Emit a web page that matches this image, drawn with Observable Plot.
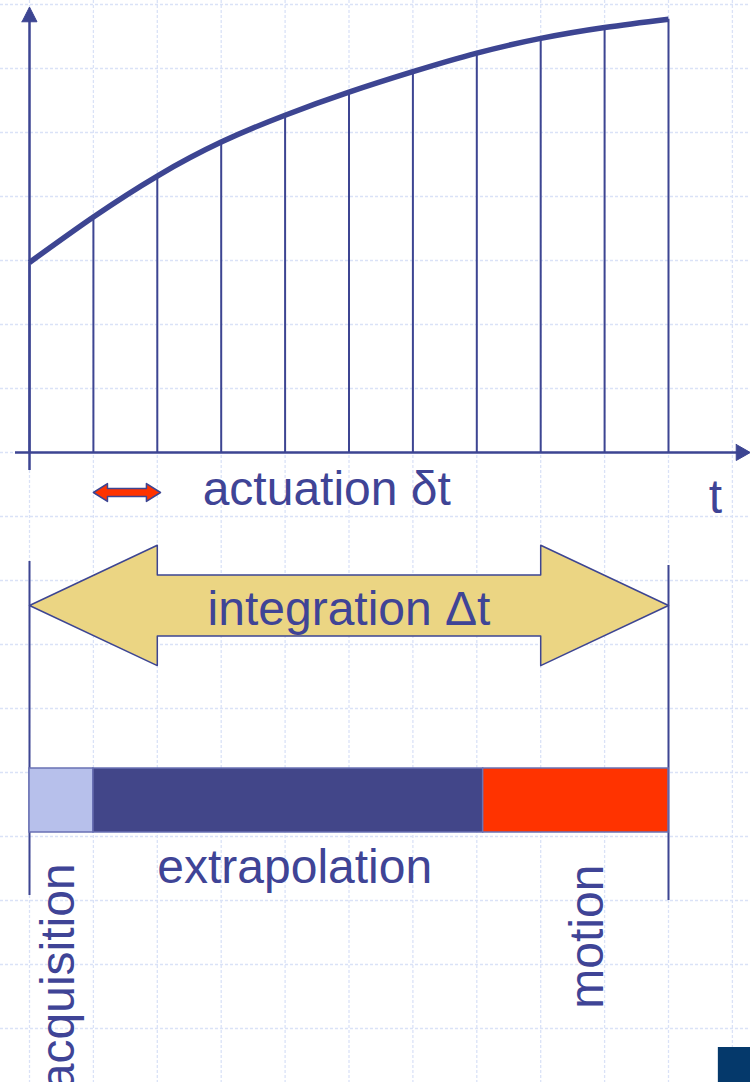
<!DOCTYPE html>
<html><head><meta charset="utf-8">
<script src="https://cdn.jsdelivr.net/npm/d3@7"></script>
<script src="https://cdn.jsdelivr.net/npm/@observablehq/plot@0.6"></script>
<style>
html,body{margin:0;padding:0;background:#fff;}
#chart svg{display:block;}
</style>
</head><body><div id="chart"></div>
<script>
// ---- data ----
const sampleTimes = [0, 1, 2, 3, 4, 5, 6, 7, 8, 9, 10];
const curveValues = [2.97, 3.68, 4.32, 4.85, 5.27, 5.63, 5.95, 6.24, 6.47, 6.64, 6.77];
const phaseNames = ["acquisition", "extrapolation", "motion"];
const phaseBounds = [0, 1, 7.1, 10];
const actuationSpan = [1, 2.05];
const integrationSpan = [0, 10];
const labelTexts = ["actuation δt", "t", "integration Δt"];
const gridTimes = d3.range(0, 12);
const gridValues = d3.range(-9, 8);

// ---- layout / style ----
const navy = "#3d4592";
const textColor = "#3f4496";
const font = "Liberation Sans, Arial, sans-serif";
const fs = 48;

const samples = sampleTimes.map((t, i) => ({t, v: curveValues[i]}));
const phases = phaseNames.map((name, i) => ({name, x1: phaseBounds[i], x2: phaseBounds[i + 1]}));

function doubleArrow(x0, x1, yc, head, shaftHalf, headHalf) {
  return [
    [x0, yc], [x0 + head, yc + headHalf], [x0 + head, yc + shaftHalf],
    [x1 - head, yc + shaftHalf], [x1 - head, yc + headHalf], [x1, yc],
    [x1 - head, yc - headHalf], [x1 - head, yc - shaftHalf],
    [x0 + head, yc - shaftHalf], [x0 + head, yc - headHalf], [x0, yc]
  ];
}
const bigArrow = doubleArrow(integrationSpan[0], integrationSpan[1], -2.39, 2.0, 0.477, 0.94);
const smallArrow = doubleArrow(actuationSpan[0], actuationSpan[1], -0.625, 0.22, 0.0625, 0.14);
const yHead = [[-0.117, 6.73], [0.117, 6.73], [0, 6.96], [-0.117, 6.73]];
const xHead = [[11.06, 0.125], [11.06, -0.125], [11.28, 0], [11.06, 0.125]];

const poly = (pts, opts) => Plot.line(pts, {x: d => d[0], y: d => d[1], ...opts});

const chart = Plot.plot({
  width: 750,
  height: 1082,
  margin: 0,
  x: {domain: [-29 / 63.9, 721 / 63.9], axis: null},
  y: {domain: [-9.84375, 7.0625], axis: null},
  color: {domain: phaseNames, range: ["#b7c0eb", "#424689", "#ff3300"]},
  style: {background: "#fff"},
  marks: [
    // background grid
    Plot.ruleX(gridTimes, {stroke: "#dae2f7", strokeWidth: 1.3, strokeDasharray: "3,2"}),
    Plot.ruleY(gridValues, {stroke: "#dae2f7", strokeWidth: 1.3, strokeDasharray: "3,2"}),
    // sample lines
    Plot.ruleX(samples, {x: "t", y1: 0, y2: "v", stroke: navy, strokeWidth: 2}),
    // curve
    Plot.line(samples, {x: "t", y: "v", curve: "natural", stroke: navy, strokeWidth: 5.5, strokeLinecap: "butt"}),
    // axes
    Plot.ruleX([0], {y1: -0.281, y2: 6.75, stroke: navy, strokeWidth: 2.5}),
    Plot.ruleY([0], {x1: -0.219, x2: 11.08, stroke: navy, strokeWidth: 2.5}),
    poly(yHead, {fill: navy, stroke: navy, strokeWidth: 1}),
    poly(xHead, {fill: navy, stroke: navy, strokeWidth: 1}),
    // actuation arrow
    poly(smallArrow, {fill: "#ff3300", stroke: navy, strokeWidth: 1.5}),
    Plot.text([labelTexts[0]], {x: 2.71, y: -0.828, text: d => d, textAnchor: "start", lineAnchor: "bottom", fill: textColor, fontSize: fs, fontFamily: font}),
    Plot.text([labelTexts[1]], {x: 10.63, y: -0.9375, text: d => d, textAnchor: "start", lineAnchor: "bottom", fill: textColor, fontSize: fs, fontFamily: font}),
    // integration arrow
    Plot.ruleX([integrationSpan[0]], {y1: -1.703, y2: -6.922, stroke: navy, strokeWidth: 2}),
    Plot.ruleX([integrationSpan[1]], {y1: -1.766, y2: -7.0, stroke: navy, strokeWidth: 2}),
    poly(bigArrow, {fill: "#ebd583", stroke: navy, strokeWidth: 1.5}),
    Plot.text([labelTexts[2]], {x: (integrationSpan[0] + integrationSpan[1]) / 2, y: -2.6875, text: d => d, textAnchor: "middle", lineAnchor: "bottom", fill: textColor, fontSize: fs, fontFamily: font}),
    // phase bar
    Plot.rect(phases, {x1: "x1", x2: "x2", y1: -4.9375, y2: -5.9375, fill: "name", stroke: "#6a71b4", strokeWidth: 1.5}),
    Plot.text([phaseNames[1]], {x: 2.0, y: -6.734, text: d => d, textAnchor: "start", lineAnchor: "bottom", fill: textColor, fontSize: fs, fontFamily: font}),
    Plot.text([phaseNames[0]], {x: 0.69, y: -6.42, text: d => d, rotate: -90, textAnchor: "end", lineAnchor: "bottom", fill: textColor, fontSize: fs, fontFamily: font}),
    Plot.text([phaseNames[2]], {x: 8.98, y: -6.44, text: d => d, rotate: -90, textAnchor: "end", lineAnchor: "bottom", fill: textColor, fontSize: fs, fontFamily: font}),
    // slide corner mark
    Plot.rect([0], {x1: 10.78, x2: 11.4, y1: -9.297, y2: -10, fill: "#05396b"})
  ]
});
document.getElementById("chart").appendChild(chart);
</script>
</body></html>
